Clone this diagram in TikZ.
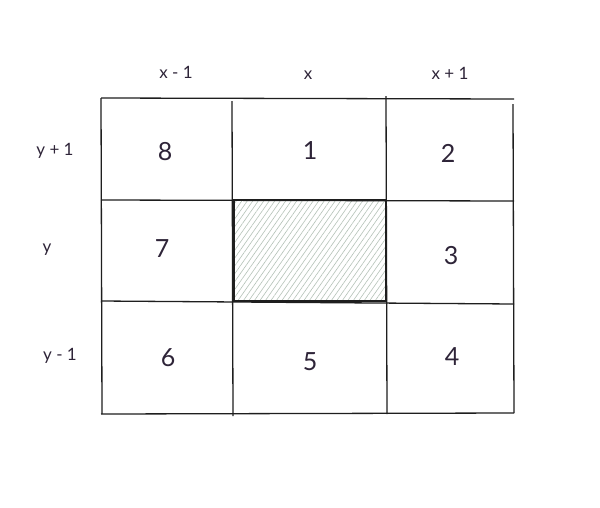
\documentclass[tikz,border=0pt]{standalone}
\usepackage{fontspec}
\setmainfont{Lato}
\usetikzlibrary{patterns.meta}
\definecolor{ink}{HTML}{1E1E1E}
\definecolor{txt}{HTML}{2E2438}
\definecolor{hatch}{HTML}{B5C2B8}
\tikzset{
  grid/.style={draw=ink, line width=1.3pt},
  num/.style={text=txt, font=\fontsize{25}{29}\selectfont},
  lab/.style={text=txt, font=\fontsize{17}{20}\selectfont},
}
\begin{document}
\begin{tikzpicture}[x=1pt,y=-1pt]
\useasboundingbox (0,0) rectangle (600,507);
\fill[white] (0,0) rectangle (600,507);
% hatched centre cell
\path[pattern={Lines[angle=55,distance=4.5pt,line width=0.6pt]}, pattern color=hatch] (234,200) rectangle (386,301);
% grid
\draw[grid] (101,98) -- (514,99);
\draw[grid] (101,200) -- (514,201);
\draw[grid] (101,301) -- (514,304);
\draw[grid] (101,414) -- (514,413);
\draw[grid] (101,98) -- (102,414);
\draw[grid] (232,101) -- (233,416);
\draw[grid] (386,96) -- (387,414);
\draw[grid] (513,104) -- (514,413);
\draw[draw=ink, line width=1.5pt] (234,200) rectangle (386,301);
% numbers
\node[num] (n8) at (165,152) {8};
\node[num] (n1) at (310,151) {1};
\node[num] (n2) at (448,153) {2};
\node[num] (n7) at (162,249) {7};
\node[num] (n3) at (451,256) {3};
\node[num] (n6) at (168,358) {6};
\node[num] (n5) at (310,362) {5};
\node[num] (n4) at (452,357) {4};
% axis labels
\node[lab] (xm) at (176,72) {x - 1};
\node[lab] (x0) at (308,75) {x};
\node[lab] (xp) at (450,73) {x + 1};
\node[lab] (yp) at (55,151) {y + 1};
\node[lab] (y0) at (47,250) {y};
\node[lab] (ym) at (60,356) {y - 1};
\end{tikzpicture}
\end{document}
